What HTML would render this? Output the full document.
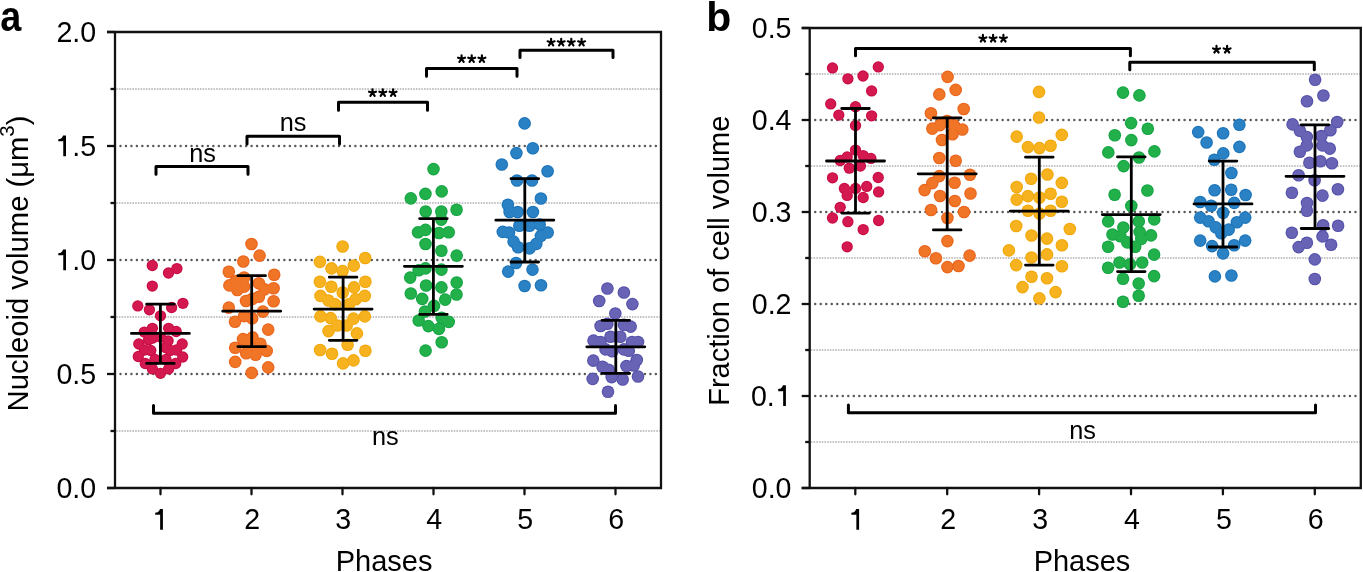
<!DOCTYPE html>
<html><head><meta charset="utf-8"><style>
html,body{margin:0;padding:0;background:#fff;width:1363px;height:572px;overflow:hidden}
svg{display:block;will-change:transform}
</style></head><body>
<svg width="1363" height="572" viewBox="0 0 1363 572" font-family='"Liberation Sans", sans-serif' fill="#000">
<rect width="1363" height="572" fill="#fff"/>
<line x1="116.2" y1="431.00" x2="659.8" y2="431.00" stroke="#8a8a8a" stroke-width="1" stroke-dasharray="1.6 1.1"/>
<line x1="116.2" y1="317.00" x2="659.8" y2="317.00" stroke="#8a8a8a" stroke-width="1" stroke-dasharray="1.6 1.1"/>
<line x1="116.2" y1="203.00" x2="659.8" y2="203.00" stroke="#8a8a8a" stroke-width="1" stroke-dasharray="1.6 1.1"/>
<line x1="116.2" y1="89.00" x2="659.8" y2="89.00" stroke="#8a8a8a" stroke-width="1" stroke-dasharray="1.6 1.1"/>
<line x1="120.5" y1="374.00" x2="658" y2="374.00" stroke="#5a5a5a" stroke-width="2.5" stroke-linecap="round" stroke-dasharray="0 5.463"/>
<line x1="120.5" y1="260.00" x2="658" y2="260.00" stroke="#5a5a5a" stroke-width="2.5" stroke-linecap="round" stroke-dasharray="0 5.463"/>
<line x1="120.5" y1="146.00" x2="658" y2="146.00" stroke="#5a5a5a" stroke-width="2.5" stroke-linecap="round" stroke-dasharray="0 5.463"/>
<line x1="107" y1="488.00" x2="115" y2="488.00" stroke="#111" stroke-width="2.3"/>
<line x1="107" y1="374.00" x2="115" y2="374.00" stroke="#111" stroke-width="2.3"/>
<line x1="107" y1="260.00" x2="115" y2="260.00" stroke="#111" stroke-width="2.3"/>
<line x1="107" y1="146.00" x2="115" y2="146.00" stroke="#111" stroke-width="2.3"/>
<line x1="107" y1="32.00" x2="115" y2="32.00" stroke="#111" stroke-width="2.3"/>
<line x1="110.5" y1="431.00" x2="115" y2="431.00" stroke="#111" stroke-width="2.3"/>
<line x1="110.5" y1="317.00" x2="115" y2="317.00" stroke="#111" stroke-width="2.3"/>
<line x1="110.5" y1="203.00" x2="115" y2="203.00" stroke="#111" stroke-width="2.3"/>
<line x1="110.5" y1="89.00" x2="115" y2="89.00" stroke="#111" stroke-width="2.3"/>
<line x1="160.50" y1="488" x2="160.50" y2="494.3" stroke="#111" stroke-width="2.3" stroke-linecap="round"/>
<line x1="251.50" y1="488" x2="251.50" y2="494.3" stroke="#111" stroke-width="2.3" stroke-linecap="round"/>
<line x1="342.50" y1="488" x2="342.50" y2="494.3" stroke="#111" stroke-width="2.3" stroke-linecap="round"/>
<line x1="433.50" y1="488" x2="433.50" y2="494.3" stroke="#111" stroke-width="2.3" stroke-linecap="round"/>
<line x1="524.50" y1="488" x2="524.50" y2="494.3" stroke="#111" stroke-width="2.3" stroke-linecap="round"/>
<line x1="615.50" y1="488" x2="615.50" y2="494.3" stroke="#111" stroke-width="2.3" stroke-linecap="round"/>
<path d="M107 32H661V488H107M115 32V488" fill="none" stroke="#111" stroke-width="2.3"/>
<text x="96.2" y="498.30" text-anchor="end" font-size="28.6">0.0</text>
<text x="96.2" y="384.30" text-anchor="end" font-size="28.6">0.5</text>
<text x="96.2" y="270.30" text-anchor="end" font-size="28.6">.0</text>
<path d="M66.00 249.50L66.00 270.20L63.25 270.20L63.25 255.10Q62.50 255.35 61.00 255.35L58.30 255.35L58.30 253.20Q61.30 253.20 62.30 251.20Q62.75 250.10 63.05 249.50Z"/>
<text x="96.2" y="156.30" text-anchor="end" font-size="28.6">.5</text>
<path d="M66.00 135.50L66.00 156.20L63.25 156.20L63.25 141.10Q62.50 141.35 61.00 141.35L58.30 141.35L58.30 139.20Q61.30 139.20 62.30 137.20Q62.75 136.10 63.05 135.50Z"/>
<text x="96.2" y="42.30" text-anchor="end" font-size="28.6">2.0</text>
<path d="M162.90 509.00L162.90 529.70L160.15 529.70L160.15 514.60Q159.40 514.85 157.90 514.85L155.20 514.85L155.20 512.70Q158.20 512.70 159.20 510.70Q159.65 509.60 159.95 509.00Z"/>
<text x="252.30" y="529.0" text-anchor="middle" font-size="28.6">2</text>
<text x="343.30" y="529.0" text-anchor="middle" font-size="28.6">3</text>
<text x="434.30" y="529.0" text-anchor="middle" font-size="28.6">4</text>
<text x="525.30" y="529.0" text-anchor="middle" font-size="28.6">5</text>
<text x="616.30" y="529.0" text-anchor="middle" font-size="28.6">6</text>
<line x1="810.9000000000001" y1="442.00" x2="1359.6" y2="442.00" stroke="#8a8a8a" stroke-width="1" stroke-dasharray="1.6 1.1"/>
<line x1="810.9000000000001" y1="350.00" x2="1359.6" y2="350.00" stroke="#8a8a8a" stroke-width="1" stroke-dasharray="1.6 1.1"/>
<line x1="810.9000000000001" y1="258.00" x2="1359.6" y2="258.00" stroke="#8a8a8a" stroke-width="1" stroke-dasharray="1.6 1.1"/>
<line x1="810.9000000000001" y1="166.00" x2="1359.6" y2="166.00" stroke="#8a8a8a" stroke-width="1" stroke-dasharray="1.6 1.1"/>
<line x1="810.9000000000001" y1="74.00" x2="1359.6" y2="74.00" stroke="#8a8a8a" stroke-width="1" stroke-dasharray="1.6 1.1"/>
<line x1="815.2" y1="396.00" x2="1357.8" y2="396.00" stroke="#5a5a5a" stroke-width="2.5" stroke-linecap="round" stroke-dasharray="0 5.513"/>
<line x1="815.2" y1="304.00" x2="1357.8" y2="304.00" stroke="#5a5a5a" stroke-width="2.5" stroke-linecap="round" stroke-dasharray="0 5.513"/>
<line x1="815.2" y1="212.00" x2="1357.8" y2="212.00" stroke="#5a5a5a" stroke-width="2.5" stroke-linecap="round" stroke-dasharray="0 5.513"/>
<line x1="815.2" y1="120.00" x2="1357.8" y2="120.00" stroke="#5a5a5a" stroke-width="2.5" stroke-linecap="round" stroke-dasharray="0 5.513"/>
<line x1="801.7" y1="488.00" x2="809.7" y2="488.00" stroke="#111" stroke-width="2.3"/>
<line x1="801.7" y1="396.00" x2="809.7" y2="396.00" stroke="#111" stroke-width="2.3"/>
<line x1="801.7" y1="304.00" x2="809.7" y2="304.00" stroke="#111" stroke-width="2.3"/>
<line x1="801.7" y1="212.00" x2="809.7" y2="212.00" stroke="#111" stroke-width="2.3"/>
<line x1="801.7" y1="120.00" x2="809.7" y2="120.00" stroke="#111" stroke-width="2.3"/>
<line x1="801.7" y1="28.00" x2="809.7" y2="28.00" stroke="#111" stroke-width="2.3"/>
<line x1="805.2" y1="442.00" x2="809.7" y2="442.00" stroke="#111" stroke-width="2.3"/>
<line x1="805.2" y1="350.00" x2="809.7" y2="350.00" stroke="#111" stroke-width="2.3"/>
<line x1="805.2" y1="258.00" x2="809.7" y2="258.00" stroke="#111" stroke-width="2.3"/>
<line x1="805.2" y1="166.00" x2="809.7" y2="166.00" stroke="#111" stroke-width="2.3"/>
<line x1="805.2" y1="74.00" x2="809.7" y2="74.00" stroke="#111" stroke-width="2.3"/>
<line x1="855.30" y1="488" x2="855.30" y2="494.3" stroke="#111" stroke-width="2.3" stroke-linecap="round"/>
<line x1="947.20" y1="488" x2="947.20" y2="494.3" stroke="#111" stroke-width="2.3" stroke-linecap="round"/>
<line x1="1039.10" y1="488" x2="1039.10" y2="494.3" stroke="#111" stroke-width="2.3" stroke-linecap="round"/>
<line x1="1131.00" y1="488" x2="1131.00" y2="494.3" stroke="#111" stroke-width="2.3" stroke-linecap="round"/>
<line x1="1222.90" y1="488" x2="1222.90" y2="494.3" stroke="#111" stroke-width="2.3" stroke-linecap="round"/>
<line x1="1314.80" y1="488" x2="1314.80" y2="494.3" stroke="#111" stroke-width="2.3" stroke-linecap="round"/>
<path d="M801.7 28H1360.8V488H801.7M809.7 28V488" fill="none" stroke="#111" stroke-width="2.3"/>
<text x="791.5" y="498.30" text-anchor="end" font-size="28.6">0.0</text>
<text x="750.9" y="406.30" font-size="28.6">0.</text>
<path d="M785.90 385.30L785.90 406.00L783.15 406.00L783.15 390.90Q782.40 391.15 780.90 391.15L778.20 391.15L778.20 389.00Q781.20 389.00 782.20 387.00Q782.65 385.90 782.95 385.30Z"/>
<text x="791.5" y="314.30" text-anchor="end" font-size="28.6">0.2</text>
<text x="791.5" y="222.30" text-anchor="end" font-size="28.6">0.3</text>
<text x="791.5" y="130.30" text-anchor="end" font-size="28.6">0.4</text>
<text x="791.5" y="38.30" text-anchor="end" font-size="28.6">0.5</text>
<path d="M859.10 509.00L859.10 529.70L856.35 529.70L856.35 514.60Q855.60 514.85 854.10 514.85L851.40 514.85L851.40 512.70Q854.40 512.70 855.40 510.70Q855.85 509.60 856.15 509.00Z"/>
<text x="948.20" y="529.0" text-anchor="middle" font-size="28.6">2</text>
<text x="1040.10" y="529.0" text-anchor="middle" font-size="28.6">3</text>
<text x="1132.00" y="529.0" text-anchor="middle" font-size="28.6">4</text>
<text x="1223.90" y="529.0" text-anchor="middle" font-size="28.6">5</text>
<text x="1315.80" y="529.0" text-anchor="middle" font-size="28.6">6</text>
<g fill="#c80a43"><circle cx="152.3" cy="265.5" r="5.6499999999999995"/><circle cx="176.9" cy="268.6" r="5.6499999999999995"/><circle cx="168.5" cy="273.0" r="5.6499999999999995"/><circle cx="152.3" cy="286.1" r="5.6499999999999995"/><circle cx="137.8" cy="305.9" r="5.6499999999999995"/><circle cx="182.9" cy="303.3" r="5.6499999999999995"/><circle cx="149.4" cy="309.8" r="5.6499999999999995"/><circle cx="171.6" cy="307.5" r="5.6499999999999995"/><circle cx="160.5" cy="315.8" r="5.6499999999999995"/><circle cx="152.4" cy="328.3" r="5.6499999999999995"/><circle cx="168.6" cy="328.3" r="5.6499999999999995"/><circle cx="144.3" cy="332.1" r="5.6499999999999995"/><circle cx="176.2" cy="331.5" r="5.6499999999999995"/><circle cx="152.9" cy="338" r="5.6499999999999995"/><circle cx="168.1" cy="340.8" r="5.6499999999999995"/><circle cx="138.8" cy="344" r="5.6499999999999995"/><circle cx="182.2" cy="344" r="5.6499999999999995"/><circle cx="148.6" cy="339.7" r="5.6499999999999995"/><circle cx="150.8" cy="350.5" r="5.6499999999999995"/><circle cx="170.3" cy="350.5" r="5.6499999999999995"/><circle cx="138.3" cy="356.5" r="5.6499999999999995"/><circle cx="182.7" cy="357" r="5.6499999999999995"/><circle cx="155" cy="359.5" r="5.6499999999999995"/><circle cx="166" cy="359.5" r="5.6499999999999995"/><circle cx="145.3" cy="363.5" r="5.6499999999999995"/><circle cx="175.7" cy="363.5" r="5.6499999999999995"/><circle cx="152.4" cy="368.9" r="5.6499999999999995"/><circle cx="168.6" cy="368.9" r="5.6499999999999995"/><circle cx="160.5" cy="373.3" r="5.6499999999999995"/><circle cx="144.5" cy="350" r="5.6499999999999995"/><circle cx="176.5" cy="350" r="5.6499999999999995"/><circle cx="165.5" cy="347.5" r="5.6499999999999995"/><circle cx="160.5" cy="337" r="5.6499999999999995"/></g>
<g fill="#d3194f"><circle cx="152.3" cy="265.5" r="4.6499999999999995"/><circle cx="176.9" cy="268.6" r="4.6499999999999995"/><circle cx="168.5" cy="273.0" r="4.6499999999999995"/><circle cx="152.3" cy="286.1" r="4.6499999999999995"/><circle cx="137.8" cy="305.9" r="4.6499999999999995"/><circle cx="182.9" cy="303.3" r="4.6499999999999995"/><circle cx="149.4" cy="309.8" r="4.6499999999999995"/><circle cx="171.6" cy="307.5" r="4.6499999999999995"/><circle cx="160.5" cy="315.8" r="4.6499999999999995"/><circle cx="152.4" cy="328.3" r="4.6499999999999995"/><circle cx="168.6" cy="328.3" r="4.6499999999999995"/><circle cx="144.3" cy="332.1" r="4.6499999999999995"/><circle cx="176.2" cy="331.5" r="4.6499999999999995"/><circle cx="152.9" cy="338" r="4.6499999999999995"/><circle cx="168.1" cy="340.8" r="4.6499999999999995"/><circle cx="138.8" cy="344" r="4.6499999999999995"/><circle cx="182.2" cy="344" r="4.6499999999999995"/><circle cx="148.6" cy="339.7" r="4.6499999999999995"/><circle cx="150.8" cy="350.5" r="4.6499999999999995"/><circle cx="170.3" cy="350.5" r="4.6499999999999995"/><circle cx="138.3" cy="356.5" r="4.6499999999999995"/><circle cx="182.7" cy="357" r="4.6499999999999995"/><circle cx="155" cy="359.5" r="4.6499999999999995"/><circle cx="166" cy="359.5" r="4.6499999999999995"/><circle cx="145.3" cy="363.5" r="4.6499999999999995"/><circle cx="175.7" cy="363.5" r="4.6499999999999995"/><circle cx="152.4" cy="368.9" r="4.6499999999999995"/><circle cx="168.6" cy="368.9" r="4.6499999999999995"/><circle cx="160.5" cy="373.3" r="4.6499999999999995"/><circle cx="144.5" cy="350" r="4.6499999999999995"/><circle cx="176.5" cy="350" r="4.6499999999999995"/><circle cx="165.5" cy="347.5" r="4.6499999999999995"/><circle cx="160.5" cy="337" r="4.6499999999999995"/></g>
<g fill="#e9631b"><circle cx="251.5" cy="244.0" r="6.3"/><circle cx="259.6" cy="255.6" r="6.3"/><circle cx="243.3" cy="261.5" r="6.3"/><circle cx="228.8" cy="271.8" r="6.3"/><circle cx="274.2" cy="274.7" r="6.3"/><circle cx="244.1" cy="277.5" r="6.3"/><circle cx="229.4" cy="285.4" r="6.3"/><circle cx="258.9" cy="283.2" r="6.3"/><circle cx="237.3" cy="290" r="6.3"/><circle cx="244.1" cy="286.6" r="6.3"/><circle cx="264.6" cy="289.4" r="6.3"/><circle cx="273.6" cy="288.3" r="6.3"/><circle cx="252.1" cy="299" r="6.3"/><circle cx="258.9" cy="296.8" r="6.3"/><circle cx="273.6" cy="301.3" r="6.3"/><circle cx="228.8" cy="307.6" r="6.3"/><circle cx="262.9" cy="311.6" r="6.3"/><circle cx="235" cy="321.8" r="6.3"/><circle cx="244.1" cy="316.1" r="6.3"/><circle cx="252.1" cy="318.4" r="6.3"/><circle cx="268.2" cy="329.6" r="6.3"/><circle cx="243" cy="339.1" r="6.3"/><circle cx="252.5" cy="337.5" r="6.3"/><circle cx="235.2" cy="347.7" r="6.3"/><circle cx="260.4" cy="343.8" r="6.3"/><circle cx="246.2" cy="353.2" r="6.3"/><circle cx="255.6" cy="354.8" r="6.3"/><circle cx="266.7" cy="350.9" r="6.3"/><circle cx="235.2" cy="361.9" r="6.3"/><circle cx="268.2" cy="367.4" r="6.3"/><circle cx="251.7" cy="372.9" r="6.3"/><circle cx="246" cy="301" r="6.3"/><circle cx="249" cy="346" r="6.3"/><circle cx="258" cy="348" r="6.3"/><circle cx="236" cy="281" r="6.3"/></g>
<g fill="#f07527"><circle cx="251.5" cy="244.0" r="5.3"/><circle cx="259.6" cy="255.6" r="5.3"/><circle cx="243.3" cy="261.5" r="5.3"/><circle cx="228.8" cy="271.8" r="5.3"/><circle cx="274.2" cy="274.7" r="5.3"/><circle cx="244.1" cy="277.5" r="5.3"/><circle cx="229.4" cy="285.4" r="5.3"/><circle cx="258.9" cy="283.2" r="5.3"/><circle cx="237.3" cy="290" r="5.3"/><circle cx="244.1" cy="286.6" r="5.3"/><circle cx="264.6" cy="289.4" r="5.3"/><circle cx="273.6" cy="288.3" r="5.3"/><circle cx="252.1" cy="299" r="5.3"/><circle cx="258.9" cy="296.8" r="5.3"/><circle cx="273.6" cy="301.3" r="5.3"/><circle cx="228.8" cy="307.6" r="5.3"/><circle cx="262.9" cy="311.6" r="5.3"/><circle cx="235" cy="321.8" r="5.3"/><circle cx="244.1" cy="316.1" r="5.3"/><circle cx="252.1" cy="318.4" r="5.3"/><circle cx="268.2" cy="329.6" r="5.3"/><circle cx="243" cy="339.1" r="5.3"/><circle cx="252.5" cy="337.5" r="5.3"/><circle cx="235.2" cy="347.7" r="5.3"/><circle cx="260.4" cy="343.8" r="5.3"/><circle cx="246.2" cy="353.2" r="5.3"/><circle cx="255.6" cy="354.8" r="5.3"/><circle cx="266.7" cy="350.9" r="5.3"/><circle cx="235.2" cy="361.9" r="5.3"/><circle cx="268.2" cy="367.4" r="5.3"/><circle cx="251.7" cy="372.9" r="5.3"/><circle cx="246" cy="301" r="5.3"/><circle cx="249" cy="346" r="5.3"/><circle cx="258" cy="348" r="5.3"/><circle cx="236" cy="281" r="5.3"/></g>
<g fill="#f1a70a"><circle cx="342.6" cy="246.5" r="6.3"/><circle cx="319.9" cy="261.9" r="6.3"/><circle cx="365.2" cy="258" r="6.3"/><circle cx="331.5" cy="268.4" r="6.3"/><circle cx="353.8" cy="265.6" r="6.3"/><circle cx="342.6" cy="271.1" r="6.3"/><circle cx="319.9" cy="281.7" r="6.3"/><circle cx="365.4" cy="281.7" r="6.3"/><circle cx="331.3" cy="286.8" r="6.3"/><circle cx="354" cy="287.4" r="6.3"/><circle cx="342.7" cy="292.5" r="6.3"/><circle cx="320.5" cy="295.9" r="6.3"/><circle cx="364.8" cy="295.9" r="6.3"/><circle cx="328.5" cy="300.5" r="6.3"/><circle cx="355.7" cy="299.3" r="6.3"/><circle cx="335.3" cy="304.4" r="6.3"/><circle cx="348.9" cy="304.4" r="6.3"/><circle cx="320.5" cy="316.4" r="6.3"/><circle cx="364.8" cy="316.4" r="6.3"/><circle cx="330.7" cy="318.1" r="6.3"/><circle cx="353.5" cy="318.6" r="6.3"/><circle cx="328.5" cy="331.1" r="6.3"/><circle cx="337.5" cy="325.5" r="6.3"/><circle cx="346.6" cy="325.5" r="6.3"/><circle cx="356.9" cy="333.4" r="6.3"/><circle cx="347.6" cy="344.8" r="6.3"/><circle cx="320.1" cy="350" r="6.3"/><circle cx="332" cy="353.7" r="6.3"/><circle cx="365.4" cy="350.7" r="6.3"/><circle cx="343.1" cy="363.4" r="6.3"/><circle cx="353.5" cy="360.4" r="6.3"/></g>
<g fill="#f6b31f"><circle cx="342.6" cy="246.5" r="5.3"/><circle cx="319.9" cy="261.9" r="5.3"/><circle cx="365.2" cy="258" r="5.3"/><circle cx="331.5" cy="268.4" r="5.3"/><circle cx="353.8" cy="265.6" r="5.3"/><circle cx="342.6" cy="271.1" r="5.3"/><circle cx="319.9" cy="281.7" r="5.3"/><circle cx="365.4" cy="281.7" r="5.3"/><circle cx="331.3" cy="286.8" r="5.3"/><circle cx="354" cy="287.4" r="5.3"/><circle cx="342.7" cy="292.5" r="5.3"/><circle cx="320.5" cy="295.9" r="5.3"/><circle cx="364.8" cy="295.9" r="5.3"/><circle cx="328.5" cy="300.5" r="5.3"/><circle cx="355.7" cy="299.3" r="5.3"/><circle cx="335.3" cy="304.4" r="5.3"/><circle cx="348.9" cy="304.4" r="5.3"/><circle cx="320.5" cy="316.4" r="5.3"/><circle cx="364.8" cy="316.4" r="5.3"/><circle cx="330.7" cy="318.1" r="5.3"/><circle cx="353.5" cy="318.6" r="5.3"/><circle cx="328.5" cy="331.1" r="5.3"/><circle cx="337.5" cy="325.5" r="5.3"/><circle cx="346.6" cy="325.5" r="5.3"/><circle cx="356.9" cy="333.4" r="5.3"/><circle cx="347.6" cy="344.8" r="5.3"/><circle cx="320.1" cy="350" r="5.3"/><circle cx="332" cy="353.7" r="5.3"/><circle cx="365.4" cy="350.7" r="5.3"/><circle cx="343.1" cy="363.4" r="5.3"/><circle cx="353.5" cy="360.4" r="5.3"/></g>
<g fill="#14a443"><circle cx="433.5" cy="169.1" r="6.3"/><circle cx="410.8" cy="198.4" r="6.3"/><circle cx="425.4" cy="193.9" r="6.3"/><circle cx="441.7" cy="191.4" r="6.3"/><circle cx="425.7" cy="211.5" r="6.3"/><circle cx="441.3" cy="211.5" r="6.3"/><circle cx="456.6" cy="209.7" r="6.3"/><circle cx="441.3" cy="219.6" r="6.3"/><circle cx="418.1" cy="232.3" r="6.3"/><circle cx="425.5" cy="229.9" r="6.3"/><circle cx="438.9" cy="233" r="6.3"/><circle cx="448.7" cy="232.3" r="6.3"/><circle cx="425.5" cy="244" r="6.3"/><circle cx="441.4" cy="250.7" r="6.3"/><circle cx="456.7" cy="255.6" r="6.3"/><circle cx="418.7" cy="270.3" r="6.3"/><circle cx="425.5" cy="268.4" r="6.3"/><circle cx="441.4" cy="269.6" r="6.3"/><circle cx="410.2" cy="277.6" r="6.3"/><circle cx="426.1" cy="285.5" r="6.3"/><circle cx="441.4" cy="287.4" r="6.3"/><circle cx="456.7" cy="282.5" r="6.3"/><circle cx="456.5" cy="294.5" r="6.3"/><circle cx="410.8" cy="293.5" r="6.3"/><circle cx="422.2" cy="298.9" r="6.3"/><circle cx="445.2" cy="299.6" r="6.3"/><circle cx="434" cy="305.9" r="6.3"/><circle cx="425" cy="311.5" r="6.3"/><circle cx="418.7" cy="320.5" r="6.3"/><circle cx="428.4" cy="326.1" r="6.3"/><circle cx="438.9" cy="328.9" r="6.3"/><circle cx="448.7" cy="321.9" r="6.3"/><circle cx="441.7" cy="317.7" r="6.3"/><circle cx="441.7" cy="342.2" r="6.3"/><circle cx="425.6" cy="350.6" r="6.3"/></g>
<g fill="#22b04a"><circle cx="433.5" cy="169.1" r="5.3"/><circle cx="410.8" cy="198.4" r="5.3"/><circle cx="425.4" cy="193.9" r="5.3"/><circle cx="441.7" cy="191.4" r="5.3"/><circle cx="425.7" cy="211.5" r="5.3"/><circle cx="441.3" cy="211.5" r="5.3"/><circle cx="456.6" cy="209.7" r="5.3"/><circle cx="441.3" cy="219.6" r="5.3"/><circle cx="418.1" cy="232.3" r="5.3"/><circle cx="425.5" cy="229.9" r="5.3"/><circle cx="438.9" cy="233" r="5.3"/><circle cx="448.7" cy="232.3" r="5.3"/><circle cx="425.5" cy="244" r="5.3"/><circle cx="441.4" cy="250.7" r="5.3"/><circle cx="456.7" cy="255.6" r="5.3"/><circle cx="418.7" cy="270.3" r="5.3"/><circle cx="425.5" cy="268.4" r="5.3"/><circle cx="441.4" cy="269.6" r="5.3"/><circle cx="410.2" cy="277.6" r="5.3"/><circle cx="426.1" cy="285.5" r="5.3"/><circle cx="441.4" cy="287.4" r="5.3"/><circle cx="456.7" cy="282.5" r="5.3"/><circle cx="456.5" cy="294.5" r="5.3"/><circle cx="410.8" cy="293.5" r="5.3"/><circle cx="422.2" cy="298.9" r="5.3"/><circle cx="445.2" cy="299.6" r="5.3"/><circle cx="434" cy="305.9" r="5.3"/><circle cx="425" cy="311.5" r="5.3"/><circle cx="418.7" cy="320.5" r="5.3"/><circle cx="428.4" cy="326.1" r="5.3"/><circle cx="438.9" cy="328.9" r="5.3"/><circle cx="448.7" cy="321.9" r="5.3"/><circle cx="441.7" cy="317.7" r="5.3"/><circle cx="441.7" cy="342.2" r="5.3"/><circle cx="425.6" cy="350.6" r="5.3"/></g>
<g fill="#1b73b9"><circle cx="524.6" cy="123.4" r="6.3"/><circle cx="532.8" cy="148.3" r="6.3"/><circle cx="516.4" cy="153.1" r="6.3"/><circle cx="501.8" cy="164.5" r="6.3"/><circle cx="547.6" cy="171.2" r="6.3"/><circle cx="517" cy="180.5" r="6.3"/><circle cx="532" cy="180.5" r="6.3"/><circle cx="540.9" cy="198.5" r="6.3"/><circle cx="507.9" cy="204.7" r="6.3"/><circle cx="509.6" cy="212" r="6.3"/><circle cx="517.6" cy="212" r="6.3"/><circle cx="532.9" cy="212" r="6.3"/><circle cx="519.3" cy="225.7" r="6.3"/><circle cx="529.5" cy="225.7" r="6.3"/><circle cx="539.7" cy="224.5" r="6.3"/><circle cx="502.8" cy="231.9" r="6.3"/><circle cx="509" cy="232.5" r="6.3"/><circle cx="547.7" cy="232.5" r="6.3"/><circle cx="540.9" cy="235.9" r="6.3"/><circle cx="513.6" cy="241.6" r="6.3"/><circle cx="518.1" cy="247.3" r="6.3"/><circle cx="529.5" cy="248.4" r="6.3"/><circle cx="536.3" cy="243.9" r="6.3"/><circle cx="516.1" cy="263" r="6.3"/><circle cx="508.2" cy="271.6" r="6.3"/><circle cx="532.5" cy="269.6" r="6.3"/><circle cx="524.6" cy="286" r="6.3"/><circle cx="541" cy="285.3" r="6.3"/></g>
<g fill="#2a81c4"><circle cx="524.6" cy="123.4" r="5.3"/><circle cx="532.8" cy="148.3" r="5.3"/><circle cx="516.4" cy="153.1" r="5.3"/><circle cx="501.8" cy="164.5" r="5.3"/><circle cx="547.6" cy="171.2" r="5.3"/><circle cx="517" cy="180.5" r="5.3"/><circle cx="532" cy="180.5" r="5.3"/><circle cx="540.9" cy="198.5" r="5.3"/><circle cx="507.9" cy="204.7" r="5.3"/><circle cx="509.6" cy="212" r="5.3"/><circle cx="517.6" cy="212" r="5.3"/><circle cx="532.9" cy="212" r="5.3"/><circle cx="519.3" cy="225.7" r="5.3"/><circle cx="529.5" cy="225.7" r="5.3"/><circle cx="539.7" cy="224.5" r="5.3"/><circle cx="502.8" cy="231.9" r="5.3"/><circle cx="509" cy="232.5" r="5.3"/><circle cx="547.7" cy="232.5" r="5.3"/><circle cx="540.9" cy="235.9" r="5.3"/><circle cx="513.6" cy="241.6" r="5.3"/><circle cx="518.1" cy="247.3" r="5.3"/><circle cx="529.5" cy="248.4" r="5.3"/><circle cx="536.3" cy="243.9" r="5.3"/><circle cx="516.1" cy="263" r="5.3"/><circle cx="508.2" cy="271.6" r="5.3"/><circle cx="532.5" cy="269.6" r="5.3"/><circle cx="524.6" cy="286" r="5.3"/><circle cx="541" cy="285.3" r="5.3"/></g>
<g fill="#5450a9"><circle cx="607.4" cy="288.5" r="6.3"/><circle cx="623.9" cy="292.5" r="6.3"/><circle cx="599.2" cy="301" r="6.3"/><circle cx="632.4" cy="304.1" r="6.3"/><circle cx="615.3" cy="313.5" r="6.3"/><circle cx="600.6" cy="326" r="6.3"/><circle cx="607.4" cy="323.8" r="6.3"/><circle cx="623.9" cy="324.9" r="6.3"/><circle cx="630.7" cy="326.6" r="6.3"/><circle cx="610.5" cy="336.7" r="6.3"/><circle cx="620.3" cy="336.7" r="6.3"/><circle cx="593.5" cy="340.6" r="6.3"/><circle cx="600.4" cy="342" r="6.3"/><circle cx="632" cy="342" r="6.3"/><circle cx="638" cy="342" r="6.3"/><circle cx="605.6" cy="349.4" r="6.3"/><circle cx="612.3" cy="351.3" r="6.3"/><circle cx="623.9" cy="349.4" r="6.3"/><circle cx="628.8" cy="350.7" r="6.3"/><circle cx="593.3" cy="360.6" r="6.3"/><circle cx="636.8" cy="360" r="6.3"/><circle cx="602.5" cy="366.7" r="6.3"/><circle cx="608.6" cy="369.8" r="6.3"/><circle cx="626.4" cy="366.1" r="6.3"/><circle cx="633.7" cy="365.5" r="6.3"/><circle cx="592.7" cy="378.9" r="6.3"/><circle cx="611.7" cy="377.1" r="6.3"/><circle cx="622.7" cy="379.5" r="6.3"/><circle cx="638" cy="376.5" r="6.3"/><circle cx="608" cy="391.8" r="6.3"/></g>
<g fill="#6863b4"><circle cx="607.4" cy="288.5" r="5.3"/><circle cx="623.9" cy="292.5" r="5.3"/><circle cx="599.2" cy="301" r="5.3"/><circle cx="632.4" cy="304.1" r="5.3"/><circle cx="615.3" cy="313.5" r="5.3"/><circle cx="600.6" cy="326" r="5.3"/><circle cx="607.4" cy="323.8" r="5.3"/><circle cx="623.9" cy="324.9" r="5.3"/><circle cx="630.7" cy="326.6" r="5.3"/><circle cx="610.5" cy="336.7" r="5.3"/><circle cx="620.3" cy="336.7" r="5.3"/><circle cx="593.5" cy="340.6" r="5.3"/><circle cx="600.4" cy="342" r="5.3"/><circle cx="632" cy="342" r="5.3"/><circle cx="638" cy="342" r="5.3"/><circle cx="605.6" cy="349.4" r="5.3"/><circle cx="612.3" cy="351.3" r="5.3"/><circle cx="623.9" cy="349.4" r="5.3"/><circle cx="628.8" cy="350.7" r="5.3"/><circle cx="593.3" cy="360.6" r="5.3"/><circle cx="636.8" cy="360" r="5.3"/><circle cx="602.5" cy="366.7" r="5.3"/><circle cx="608.6" cy="369.8" r="5.3"/><circle cx="626.4" cy="366.1" r="5.3"/><circle cx="633.7" cy="365.5" r="5.3"/><circle cx="592.7" cy="378.9" r="5.3"/><circle cx="611.7" cy="377.1" r="5.3"/><circle cx="622.7" cy="379.5" r="5.3"/><circle cx="638" cy="376.5" r="5.3"/><circle cx="608" cy="391.8" r="5.3"/></g>
<g fill="#c80a43"><circle cx="832.5" cy="67.9" r="5.6499999999999995"/><circle cx="878.3" cy="66.9" r="5.6499999999999995"/><circle cx="847.9" cy="78.8" r="5.6499999999999995"/><circle cx="863" cy="76" r="5.6499999999999995"/><circle cx="871.6" cy="90.9" r="5.6499999999999995"/><circle cx="830.7" cy="103.9" r="5.6499999999999995"/><circle cx="855.5" cy="106.7" r="5.6499999999999995"/><circle cx="838.8" cy="115.1" r="5.6499999999999995"/><circle cx="871.6" cy="115.8" r="5.6499999999999995"/><circle cx="855.5" cy="125.6" r="5.6499999999999995"/><circle cx="855.5" cy="150.1" r="5.6499999999999995"/><circle cx="847.2" cy="157" r="5.6499999999999995"/><circle cx="840.2" cy="160.5" r="5.6499999999999995"/><circle cx="863.2" cy="155.6" r="5.6499999999999995"/><circle cx="870.9" cy="158.4" r="5.6499999999999995"/><circle cx="849.3" cy="168.2" r="5.6499999999999995"/><circle cx="860.4" cy="166.1" r="5.6499999999999995"/><circle cx="832.5" cy="177.8" r="5.6499999999999995"/><circle cx="878.2" cy="177.5" r="5.6499999999999995"/><circle cx="844.4" cy="188.4" r="5.6499999999999995"/><circle cx="855.5" cy="188.4" r="5.6499999999999995"/><circle cx="866.7" cy="186.4" r="5.6499999999999995"/><circle cx="878.6" cy="191.9" r="5.6499999999999995"/><circle cx="847.2" cy="195.4" r="5.6499999999999995"/><circle cx="863.2" cy="197.5" r="5.6499999999999995"/><circle cx="840.2" cy="207.3" r="5.6499999999999995"/><circle cx="832.5" cy="218" r="5.6499999999999995"/><circle cx="847.9" cy="221.7" r="5.6499999999999995"/><circle cx="878.6" cy="220.5" r="5.6499999999999995"/><circle cx="863.2" cy="229.6" r="5.6499999999999995"/><circle cx="847.2" cy="246.8" r="5.6499999999999995"/></g>
<g fill="#d3194f"><circle cx="832.5" cy="67.9" r="4.6499999999999995"/><circle cx="878.3" cy="66.9" r="4.6499999999999995"/><circle cx="847.9" cy="78.8" r="4.6499999999999995"/><circle cx="863" cy="76" r="4.6499999999999995"/><circle cx="871.6" cy="90.9" r="4.6499999999999995"/><circle cx="830.7" cy="103.9" r="4.6499999999999995"/><circle cx="855.5" cy="106.7" r="4.6499999999999995"/><circle cx="838.8" cy="115.1" r="4.6499999999999995"/><circle cx="871.6" cy="115.8" r="4.6499999999999995"/><circle cx="855.5" cy="125.6" r="4.6499999999999995"/><circle cx="855.5" cy="150.1" r="4.6499999999999995"/><circle cx="847.2" cy="157" r="4.6499999999999995"/><circle cx="840.2" cy="160.5" r="4.6499999999999995"/><circle cx="863.2" cy="155.6" r="4.6499999999999995"/><circle cx="870.9" cy="158.4" r="4.6499999999999995"/><circle cx="849.3" cy="168.2" r="4.6499999999999995"/><circle cx="860.4" cy="166.1" r="4.6499999999999995"/><circle cx="832.5" cy="177.8" r="4.6499999999999995"/><circle cx="878.2" cy="177.5" r="4.6499999999999995"/><circle cx="844.4" cy="188.4" r="4.6499999999999995"/><circle cx="855.5" cy="188.4" r="4.6499999999999995"/><circle cx="866.7" cy="186.4" r="4.6499999999999995"/><circle cx="878.6" cy="191.9" r="4.6499999999999995"/><circle cx="847.2" cy="195.4" r="4.6499999999999995"/><circle cx="863.2" cy="197.5" r="4.6499999999999995"/><circle cx="840.2" cy="207.3" r="4.6499999999999995"/><circle cx="832.5" cy="218" r="4.6499999999999995"/><circle cx="847.9" cy="221.7" r="4.6499999999999995"/><circle cx="878.6" cy="220.5" r="4.6499999999999995"/><circle cx="863.2" cy="229.6" r="4.6499999999999995"/><circle cx="847.2" cy="246.8" r="4.6499999999999995"/></g>
<g fill="#e9631b"><circle cx="947.6" cy="76.9" r="6.3"/><circle cx="955.7" cy="89.9" r="6.3"/><circle cx="939.3" cy="94.4" r="6.3"/><circle cx="963.7" cy="109" r="6.3"/><circle cx="930.9" cy="113.2" r="6.3"/><circle cx="932.3" cy="128.6" r="6.3"/><circle cx="940" cy="125.1" r="6.3"/><circle cx="947" cy="121" r="6.3"/><circle cx="953.9" cy="125.1" r="6.3"/><circle cx="962.3" cy="129.5" r="6.3"/><circle cx="952.5" cy="134.2" r="6.3"/><circle cx="942" cy="140" r="6.3"/><circle cx="939.3" cy="158" r="6.3"/><circle cx="955.7" cy="160.8" r="6.3"/><circle cx="939.3" cy="176.1" r="6.3"/><circle cx="970" cy="174.7" r="6.3"/><circle cx="932.3" cy="183.1" r="6.3"/><circle cx="924.6" cy="190.1" r="6.3"/><circle cx="954.6" cy="182.8" r="6.3"/><circle cx="940" cy="196" r="6.3"/><circle cx="970.5" cy="193.5" r="6.3"/><circle cx="954.8" cy="201" r="6.3"/><circle cx="931" cy="210" r="6.3"/><circle cx="964" cy="212" r="6.3"/><circle cx="947.4" cy="218" r="6.3"/><circle cx="947.4" cy="241.1" r="6.3"/><circle cx="924.8" cy="251.2" r="6.3"/><circle cx="935.9" cy="258.2" r="6.3"/><circle cx="969.6" cy="255.6" r="6.3"/><circle cx="947.4" cy="267.1" r="6.3"/><circle cx="958.5" cy="266" r="6.3"/></g>
<g fill="#f07527"><circle cx="947.6" cy="76.9" r="5.3"/><circle cx="955.7" cy="89.9" r="5.3"/><circle cx="939.3" cy="94.4" r="5.3"/><circle cx="963.7" cy="109" r="5.3"/><circle cx="930.9" cy="113.2" r="5.3"/><circle cx="932.3" cy="128.6" r="5.3"/><circle cx="940" cy="125.1" r="5.3"/><circle cx="947" cy="121" r="5.3"/><circle cx="953.9" cy="125.1" r="5.3"/><circle cx="962.3" cy="129.5" r="5.3"/><circle cx="952.5" cy="134.2" r="5.3"/><circle cx="942" cy="140" r="5.3"/><circle cx="939.3" cy="158" r="5.3"/><circle cx="955.7" cy="160.8" r="5.3"/><circle cx="939.3" cy="176.1" r="5.3"/><circle cx="970" cy="174.7" r="5.3"/><circle cx="932.3" cy="183.1" r="5.3"/><circle cx="924.6" cy="190.1" r="5.3"/><circle cx="954.6" cy="182.8" r="5.3"/><circle cx="940" cy="196" r="5.3"/><circle cx="970.5" cy="193.5" r="5.3"/><circle cx="954.8" cy="201" r="5.3"/><circle cx="931" cy="210" r="5.3"/><circle cx="964" cy="212" r="5.3"/><circle cx="947.4" cy="218" r="5.3"/><circle cx="947.4" cy="241.1" r="5.3"/><circle cx="924.8" cy="251.2" r="5.3"/><circle cx="935.9" cy="258.2" r="5.3"/><circle cx="969.6" cy="255.6" r="5.3"/><circle cx="947.4" cy="267.1" r="5.3"/><circle cx="958.5" cy="266" r="5.3"/></g>
<g fill="#f1a70a"><circle cx="1039" cy="91.9" r="6.3"/><circle cx="1039" cy="117.5" r="6.3"/><circle cx="1016.7" cy="136.6" r="6.3"/><circle cx="1061.8" cy="134.9" r="6.3"/><circle cx="1027.9" cy="147.1" r="6.3"/><circle cx="1039.5" cy="148.1" r="6.3"/><circle cx="1050.6" cy="145.7" r="6.3"/><circle cx="1047.4" cy="174.5" r="6.3"/><circle cx="1031.1" cy="178.7" r="6.3"/><circle cx="1061.8" cy="182.9" r="6.3"/><circle cx="1016.7" cy="187" r="6.3"/><circle cx="1016.7" cy="199.6" r="6.3"/><circle cx="1027.9" cy="196.1" r="6.3"/><circle cx="1039.5" cy="197.5" r="6.3"/><circle cx="1050.6" cy="193.8" r="6.3"/><circle cx="1061.8" cy="201.7" r="6.3"/><circle cx="1027.9" cy="210.8" r="6.3"/><circle cx="1039.5" cy="213.6" r="6.3"/><circle cx="1050.6" cy="210.8" r="6.3"/><circle cx="1016.2" cy="226" r="6.3"/><circle cx="1069.8" cy="229" r="6.3"/><circle cx="1031.5" cy="235.5" r="6.3"/><circle cx="1047" cy="238.6" r="6.3"/><circle cx="1061.9" cy="245.2" r="6.3"/><circle cx="1008.9" cy="250.4" r="6.3"/><circle cx="1031.5" cy="257.5" r="6.3"/><circle cx="1047" cy="254.4" r="6.3"/><circle cx="1016.2" cy="265.1" r="6.3"/><circle cx="1061.9" cy="266.2" r="6.3"/><circle cx="1031.5" cy="276.7" r="6.3"/><circle cx="1047" cy="278.3" r="6.3"/><circle cx="1022.5" cy="287.1" r="6.3"/><circle cx="1055.6" cy="292.1" r="6.3"/><circle cx="1039.4" cy="298.4" r="6.3"/></g>
<g fill="#f6b31f"><circle cx="1039" cy="91.9" r="5.3"/><circle cx="1039" cy="117.5" r="5.3"/><circle cx="1016.7" cy="136.6" r="5.3"/><circle cx="1061.8" cy="134.9" r="5.3"/><circle cx="1027.9" cy="147.1" r="5.3"/><circle cx="1039.5" cy="148.1" r="5.3"/><circle cx="1050.6" cy="145.7" r="5.3"/><circle cx="1047.4" cy="174.5" r="5.3"/><circle cx="1031.1" cy="178.7" r="5.3"/><circle cx="1061.8" cy="182.9" r="5.3"/><circle cx="1016.7" cy="187" r="5.3"/><circle cx="1016.7" cy="199.6" r="5.3"/><circle cx="1027.9" cy="196.1" r="5.3"/><circle cx="1039.5" cy="197.5" r="5.3"/><circle cx="1050.6" cy="193.8" r="5.3"/><circle cx="1061.8" cy="201.7" r="5.3"/><circle cx="1027.9" cy="210.8" r="5.3"/><circle cx="1039.5" cy="213.6" r="5.3"/><circle cx="1050.6" cy="210.8" r="5.3"/><circle cx="1016.2" cy="226" r="5.3"/><circle cx="1069.8" cy="229" r="5.3"/><circle cx="1031.5" cy="235.5" r="5.3"/><circle cx="1047" cy="238.6" r="5.3"/><circle cx="1061.9" cy="245.2" r="5.3"/><circle cx="1008.9" cy="250.4" r="5.3"/><circle cx="1031.5" cy="257.5" r="5.3"/><circle cx="1047" cy="254.4" r="5.3"/><circle cx="1016.2" cy="265.1" r="5.3"/><circle cx="1061.9" cy="266.2" r="5.3"/><circle cx="1031.5" cy="276.7" r="5.3"/><circle cx="1047" cy="278.3" r="5.3"/><circle cx="1022.5" cy="287.1" r="5.3"/><circle cx="1055.6" cy="292.1" r="5.3"/><circle cx="1039.4" cy="298.4" r="5.3"/></g>
<g fill="#14a443"><circle cx="1123" cy="92.6" r="6.3"/><circle cx="1139.4" cy="95.4" r="6.3"/><circle cx="1131.1" cy="123.1" r="6.3"/><circle cx="1147.8" cy="128.7" r="6.3"/><circle cx="1114.8" cy="135.2" r="6.3"/><circle cx="1131.3" cy="140.1" r="6.3"/><circle cx="1108.3" cy="152.4" r="6.3"/><circle cx="1154.4" cy="151.4" r="6.3"/><circle cx="1139" cy="157.5" r="6.3"/><circle cx="1123.6" cy="166.1" r="6.3"/><circle cx="1147.4" cy="190.5" r="6.3"/><circle cx="1114.6" cy="194.7" r="6.3"/><circle cx="1131.3" cy="205.9" r="6.3"/><circle cx="1108.2" cy="221.4" r="6.3"/><circle cx="1138.8" cy="221.4" r="6.3"/><circle cx="1154.2" cy="219.4" r="6.3"/><circle cx="1123.3" cy="227.5" r="6.3"/><circle cx="1112.5" cy="234.5" r="6.3"/><circle cx="1120.4" cy="236.2" r="6.3"/><circle cx="1139.6" cy="231.9" r="6.3"/><circle cx="1141.3" cy="238.9" r="6.3"/><circle cx="1151" cy="235.4" r="6.3"/><circle cx="1127.3" cy="242.4" r="6.3"/><circle cx="1135.2" cy="246.7" r="6.3"/><circle cx="1108.1" cy="246.7" r="6.3"/><circle cx="1154.1" cy="254.6" r="6.3"/><circle cx="1119.5" cy="262.5" r="6.3"/><circle cx="1130" cy="264.2" r="6.3"/><circle cx="1142.2" cy="262.5" r="6.3"/><circle cx="1108.1" cy="267.7" r="6.3"/><circle cx="1123" cy="278.7" r="6.3"/><circle cx="1154.1" cy="276.1" r="6.3"/><circle cx="1138.7" cy="283.5" r="6.3"/><circle cx="1138.7" cy="295.7" r="6.3"/><circle cx="1123" cy="301.8" r="6.3"/></g>
<g fill="#22b04a"><circle cx="1123" cy="92.6" r="5.3"/><circle cx="1139.4" cy="95.4" r="5.3"/><circle cx="1131.1" cy="123.1" r="5.3"/><circle cx="1147.8" cy="128.7" r="5.3"/><circle cx="1114.8" cy="135.2" r="5.3"/><circle cx="1131.3" cy="140.1" r="5.3"/><circle cx="1108.3" cy="152.4" r="5.3"/><circle cx="1154.4" cy="151.4" r="5.3"/><circle cx="1139" cy="157.5" r="5.3"/><circle cx="1123.6" cy="166.1" r="5.3"/><circle cx="1147.4" cy="190.5" r="5.3"/><circle cx="1114.6" cy="194.7" r="5.3"/><circle cx="1131.3" cy="205.9" r="5.3"/><circle cx="1108.2" cy="221.4" r="5.3"/><circle cx="1138.8" cy="221.4" r="5.3"/><circle cx="1154.2" cy="219.4" r="5.3"/><circle cx="1123.3" cy="227.5" r="5.3"/><circle cx="1112.5" cy="234.5" r="5.3"/><circle cx="1120.4" cy="236.2" r="5.3"/><circle cx="1139.6" cy="231.9" r="5.3"/><circle cx="1141.3" cy="238.9" r="5.3"/><circle cx="1151" cy="235.4" r="5.3"/><circle cx="1127.3" cy="242.4" r="5.3"/><circle cx="1135.2" cy="246.7" r="5.3"/><circle cx="1108.1" cy="246.7" r="5.3"/><circle cx="1154.1" cy="254.6" r="5.3"/><circle cx="1119.5" cy="262.5" r="5.3"/><circle cx="1130" cy="264.2" r="5.3"/><circle cx="1142.2" cy="262.5" r="5.3"/><circle cx="1108.1" cy="267.7" r="5.3"/><circle cx="1123" cy="278.7" r="5.3"/><circle cx="1154.1" cy="276.1" r="5.3"/><circle cx="1138.7" cy="283.5" r="5.3"/><circle cx="1138.7" cy="295.7" r="5.3"/><circle cx="1123" cy="301.8" r="5.3"/></g>
<g fill="#1b73b9"><circle cx="1239.4" cy="124.8" r="6.3"/><circle cx="1198.2" cy="132.1" r="6.3"/><circle cx="1223.1" cy="133.2" r="6.3"/><circle cx="1206.6" cy="142.5" r="6.3"/><circle cx="1239.4" cy="146.9" r="6.3"/><circle cx="1223.3" cy="153.4" r="6.3"/><circle cx="1214.3" cy="159.7" r="6.3"/><circle cx="1231.4" cy="173" r="6.3"/><circle cx="1214.6" cy="190.3" r="6.3"/><circle cx="1231.2" cy="189.7" r="6.3"/><circle cx="1245.6" cy="195" r="6.3"/><circle cx="1200.2" cy="202" r="6.3"/><circle cx="1211.2" cy="205.7" r="6.3"/><circle cx="1234.2" cy="202.9" r="6.3"/><circle cx="1223.1" cy="212.7" r="6.3"/><circle cx="1200.2" cy="217.6" r="6.3"/><circle cx="1208.5" cy="221.3" r="6.3"/><circle cx="1215.8" cy="227.4" r="6.3"/><circle cx="1221.3" cy="233.2" r="6.3"/><circle cx="1228.7" cy="229.6" r="6.3"/><circle cx="1236.9" cy="222.2" r="6.3"/><circle cx="1245.2" cy="217.6" r="6.3"/><circle cx="1200.2" cy="240.6" r="6.3"/><circle cx="1212.1" cy="246.1" r="6.3"/><circle cx="1234.2" cy="245.2" r="6.3"/><circle cx="1245.2" cy="240.6" r="6.3"/><circle cx="1223.1" cy="253.4" r="6.3"/><circle cx="1214.9" cy="276.4" r="6.3"/><circle cx="1231.4" cy="275.5" r="6.3"/></g>
<g fill="#2a81c4"><circle cx="1239.4" cy="124.8" r="5.3"/><circle cx="1198.2" cy="132.1" r="5.3"/><circle cx="1223.1" cy="133.2" r="5.3"/><circle cx="1206.6" cy="142.5" r="5.3"/><circle cx="1239.4" cy="146.9" r="5.3"/><circle cx="1223.3" cy="153.4" r="5.3"/><circle cx="1214.3" cy="159.7" r="5.3"/><circle cx="1231.4" cy="173" r="5.3"/><circle cx="1214.6" cy="190.3" r="5.3"/><circle cx="1231.2" cy="189.7" r="5.3"/><circle cx="1245.6" cy="195" r="5.3"/><circle cx="1200.2" cy="202" r="5.3"/><circle cx="1211.2" cy="205.7" r="5.3"/><circle cx="1234.2" cy="202.9" r="5.3"/><circle cx="1223.1" cy="212.7" r="5.3"/><circle cx="1200.2" cy="217.6" r="5.3"/><circle cx="1208.5" cy="221.3" r="5.3"/><circle cx="1215.8" cy="227.4" r="5.3"/><circle cx="1221.3" cy="233.2" r="5.3"/><circle cx="1228.7" cy="229.6" r="5.3"/><circle cx="1236.9" cy="222.2" r="5.3"/><circle cx="1245.2" cy="217.6" r="5.3"/><circle cx="1200.2" cy="240.6" r="5.3"/><circle cx="1212.1" cy="246.1" r="5.3"/><circle cx="1234.2" cy="245.2" r="5.3"/><circle cx="1245.2" cy="240.6" r="5.3"/><circle cx="1223.1" cy="253.4" r="5.3"/><circle cx="1214.9" cy="276.4" r="5.3"/><circle cx="1231.4" cy="275.5" r="5.3"/></g>
<g fill="#5450a9"><circle cx="1315.1" cy="79.7" r="6.3"/><circle cx="1323.4" cy="95.5" r="6.3"/><circle cx="1307" cy="101.3" r="6.3"/><circle cx="1292.6" cy="124.4" r="6.3"/><circle cx="1337.2" cy="122" r="6.3"/><circle cx="1299.9" cy="130.7" r="6.3"/><circle cx="1330.4" cy="130.2" r="6.3"/><circle cx="1306.8" cy="137" r="6.3"/><circle cx="1321.4" cy="136" r="6.3"/><circle cx="1306.8" cy="145.4" r="6.3"/><circle cx="1322.5" cy="145.4" r="6.3"/><circle cx="1299.9" cy="151.7" r="6.3"/><circle cx="1329.8" cy="148.6" r="6.3"/><circle cx="1309.4" cy="162.7" r="6.3"/><circle cx="1320.4" cy="161.2" r="6.3"/><circle cx="1331.9" cy="163.3" r="6.3"/><circle cx="1298.6" cy="175.2" r="6.3"/><circle cx="1314.6" cy="180.2" r="6.3"/><circle cx="1291.9" cy="192.8" r="6.3"/><circle cx="1337.9" cy="189.3" r="6.3"/><circle cx="1322.5" cy="195.6" r="6.3"/><circle cx="1307" cy="203" r="6.3"/><circle cx="1306.9" cy="210.7" r="6.3"/><circle cx="1323.1" cy="225.3" r="6.3"/><circle cx="1338.1" cy="225.8" r="6.3"/><circle cx="1291.8" cy="232.7" r="6.3"/><circle cx="1322.5" cy="236.4" r="6.3"/><circle cx="1306.9" cy="242.8" r="6.3"/><circle cx="1298.6" cy="247.1" r="6.3"/><circle cx="1331.1" cy="244.7" r="6.3"/><circle cx="1314.8" cy="259.4" r="6.3"/><circle cx="1314.8" cy="279" r="6.3"/></g>
<g fill="#6863b4"><circle cx="1315.1" cy="79.7" r="5.3"/><circle cx="1323.4" cy="95.5" r="5.3"/><circle cx="1307" cy="101.3" r="5.3"/><circle cx="1292.6" cy="124.4" r="5.3"/><circle cx="1337.2" cy="122" r="5.3"/><circle cx="1299.9" cy="130.7" r="5.3"/><circle cx="1330.4" cy="130.2" r="5.3"/><circle cx="1306.8" cy="137" r="5.3"/><circle cx="1321.4" cy="136" r="5.3"/><circle cx="1306.8" cy="145.4" r="5.3"/><circle cx="1322.5" cy="145.4" r="5.3"/><circle cx="1299.9" cy="151.7" r="5.3"/><circle cx="1329.8" cy="148.6" r="5.3"/><circle cx="1309.4" cy="162.7" r="5.3"/><circle cx="1320.4" cy="161.2" r="5.3"/><circle cx="1331.9" cy="163.3" r="5.3"/><circle cx="1298.6" cy="175.2" r="5.3"/><circle cx="1314.6" cy="180.2" r="5.3"/><circle cx="1291.9" cy="192.8" r="5.3"/><circle cx="1337.9" cy="189.3" r="5.3"/><circle cx="1322.5" cy="195.6" r="5.3"/><circle cx="1307" cy="203" r="5.3"/><circle cx="1306.9" cy="210.7" r="5.3"/><circle cx="1323.1" cy="225.3" r="5.3"/><circle cx="1338.1" cy="225.8" r="5.3"/><circle cx="1291.8" cy="232.7" r="5.3"/><circle cx="1322.5" cy="236.4" r="5.3"/><circle cx="1306.9" cy="242.8" r="5.3"/><circle cx="1298.6" cy="247.1" r="5.3"/><circle cx="1331.1" cy="244.7" r="5.3"/><circle cx="1314.8" cy="259.4" r="5.3"/><circle cx="1314.8" cy="279" r="5.3"/></g>
<path d="M131.4 333.4H189.4M146.6 304.2H174.20000000000002M146.6 363.4H174.20000000000002" fill="none" stroke="#000" stroke-width="2.8" stroke-linecap="round"/>
<path d="M160.4 304.2V363.4" fill="none" stroke="#000" stroke-width="2.8"/>
<path d="M222.7 311.2H280.7M237.89999999999998 275.7H265.5M237.89999999999998 346.6H265.5" fill="none" stroke="#000" stroke-width="2.8" stroke-linecap="round"/>
<path d="M251.7 275.7V346.6" fill="none" stroke="#000" stroke-width="2.8"/>
<path d="M314.1 309.1H372.1M329.3 277.2H356.90000000000003M329.3 340.3H356.90000000000003" fill="none" stroke="#000" stroke-width="2.8" stroke-linecap="round"/>
<path d="M343.1 277.2V340.3" fill="none" stroke="#000" stroke-width="2.8"/>
<path d="M404.4 266.3H462.4M419.59999999999997 218.6H447.2M419.59999999999997 314.3H447.2" fill="none" stroke="#000" stroke-width="2.8" stroke-linecap="round"/>
<path d="M433.4 218.6V314.3" fill="none" stroke="#000" stroke-width="2.8"/>
<path d="M495.79999999999995 220.2H553.8M510.99999999999994 178.7H538.5999999999999M510.99999999999994 262.0H538.5999999999999" fill="none" stroke="#000" stroke-width="2.8" stroke-linecap="round"/>
<path d="M524.8 178.7V262.0" fill="none" stroke="#000" stroke-width="2.8"/>
<path d="M586.8 346.8H644.8M602.0 320.3H629.5999999999999M602.0 373.4H629.5999999999999" fill="none" stroke="#000" stroke-width="2.8" stroke-linecap="round"/>
<path d="M615.8 320.3V373.4" fill="none" stroke="#000" stroke-width="2.8"/>
<path d="M826.5 161.0H884.5M841.7 108.5H869.3M841.7 213.1H869.3" fill="none" stroke="#000" stroke-width="2.8" stroke-linecap="round"/>
<path d="M855.5 108.5V213.1" fill="none" stroke="#000" stroke-width="2.8"/>
<path d="M918.2 173.8H976.2M933.4000000000001 117.8H961.0M933.4000000000001 229.9H961.0" fill="none" stroke="#000" stroke-width="2.8" stroke-linecap="round"/>
<path d="M947.2 117.8V229.9" fill="none" stroke="#000" stroke-width="2.8"/>
<path d="M1010.3 211.1H1068.3M1025.5 157.2H1053.1M1025.5 265.1H1053.1" fill="none" stroke="#000" stroke-width="2.8" stroke-linecap="round"/>
<path d="M1039.3 157.2V265.1" fill="none" stroke="#000" stroke-width="2.8"/>
<path d="M1102.3 214.6H1160.3M1117.5 156.9H1145.1M1117.5 271.6H1145.1" fill="none" stroke="#000" stroke-width="2.8" stroke-linecap="round"/>
<path d="M1131.3 156.9V271.6" fill="none" stroke="#000" stroke-width="2.8"/>
<path d="M1194.0 203.9H1252.0M1209.2 161.1H1236.8M1209.2 247.0H1236.8" fill="none" stroke="#000" stroke-width="2.8" stroke-linecap="round"/>
<path d="M1223.0 161.1V247.0" fill="none" stroke="#000" stroke-width="2.8"/>
<path d="M1286.0 176.3H1344.0M1301.2 124.8H1328.8M1301.2 228.5H1328.8" fill="none" stroke="#000" stroke-width="2.8" stroke-linecap="round"/>
<path d="M1315.0 124.8V228.5" fill="none" stroke="#000" stroke-width="2.8"/>
<path d="M156 174.20000000000002V166.4H248V174.20000000000002" fill="none" stroke="#000" stroke-width="3" stroke-linejoin="round" stroke-linecap="round"/>
<path d="M247 143.9V136.3H339.5V143.9" fill="none" stroke="#000" stroke-width="3" stroke-linejoin="round" stroke-linecap="round"/>
<path d="M338.5 110.2V102.2H427.5V110.2" fill="none" stroke="#000" stroke-width="3" stroke-linejoin="round" stroke-linecap="round"/>
<path d="M426.5 76.2V68.5H517V76.2" fill="none" stroke="#000" stroke-width="3" stroke-linejoin="round" stroke-linecap="round"/>
<path d="M520 57.5V50.3H613V57.5" fill="none" stroke="#000" stroke-width="3" stroke-linejoin="round" stroke-linecap="round"/>
<path d="M153.5 405.6V413.3H615.5V405.6" fill="none" stroke="#000" stroke-width="3" stroke-linejoin="round" stroke-linecap="round"/>
<path d="M855.5 55.699999999999996V48.4H1130.4V55.699999999999996" fill="none" stroke="#000" stroke-width="3" stroke-linejoin="round" stroke-linecap="round"/>
<path d="M1129.8 69.7V62.3H1314.3V69.7" fill="none" stroke="#000" stroke-width="3" stroke-linejoin="round" stroke-linecap="round"/>
<path d="M848.4 405.0V412.8H1315.5V405.0" fill="none" stroke="#000" stroke-width="3" stroke-linejoin="round" stroke-linecap="round"/>
<text transform="translate(0.3 31) scale(0.9 1)" font-size="42" font-weight="bold">a</text>
<text x="706.3" y="31.3" font-size="41" font-weight="bold">b</text>
<text x="202.5" y="162.2" text-anchor="middle" font-size="25.3">ns</text>
<text x="293" y="130.9" text-anchor="middle" font-size="25.3">ns</text>
<text x="385.3" y="444.8" text-anchor="middle" font-size="25.3">ns</text>
<text x="1082.6" y="438.5" text-anchor="middle" font-size="25.3">ns</text>
<path d="M372.50 92.85L372.50 89.20M372.50 92.85L375.97 91.72M372.50 92.85L374.65 95.80M372.50 92.85L370.35 95.80M372.50 92.85L369.03 91.72" stroke="#000" stroke-width="2.15" stroke-linecap="round" fill="none"/>
<path d="M382.80 92.85L382.80 89.20M382.80 92.85L386.27 91.72M382.80 92.85L384.95 95.80M382.80 92.85L380.65 95.80M382.80 92.85L379.33 91.72" stroke="#000" stroke-width="2.15" stroke-linecap="round" fill="none"/>
<path d="M393.10 92.85L393.10 89.20M393.10 92.85L396.57 91.72M393.10 92.85L395.25 95.80M393.10 92.85L390.95 95.80M393.10 92.85L389.63 91.72" stroke="#000" stroke-width="2.15" stroke-linecap="round" fill="none"/>
<path d="M461.55 58.85L461.55 55.20M461.55 58.85L465.02 57.72M461.55 58.85L463.70 61.80M461.55 58.85L459.40 61.80M461.55 58.85L458.08 57.72" stroke="#000" stroke-width="2.15" stroke-linecap="round" fill="none"/>
<path d="M471.70 58.85L471.70 55.20M471.70 58.85L475.17 57.72M471.70 58.85L473.85 61.80M471.70 58.85L469.55 61.80M471.70 58.85L468.23 57.72" stroke="#000" stroke-width="2.15" stroke-linecap="round" fill="none"/>
<path d="M481.90 58.85L481.90 55.20M481.90 58.85L485.37 57.72M481.90 58.85L484.05 61.80M481.90 58.85L479.75 61.80M481.90 58.85L478.43 57.72" stroke="#000" stroke-width="2.15" stroke-linecap="round" fill="none"/>
<path d="M551.10 42.45L551.10 38.80M551.10 42.45L554.57 41.32M551.10 42.45L553.25 45.40M551.10 42.45L548.95 45.40M551.10 42.45L547.63 41.32" stroke="#000" stroke-width="2.15" stroke-linecap="round" fill="none"/>
<path d="M561.20 42.45L561.20 38.80M561.20 42.45L564.67 41.32M561.20 42.45L563.35 45.40M561.20 42.45L559.05 45.40M561.20 42.45L557.73 41.32" stroke="#000" stroke-width="2.15" stroke-linecap="round" fill="none"/>
<path d="M571.30 42.45L571.30 38.80M571.30 42.45L574.77 41.32M571.30 42.45L573.45 45.40M571.30 42.45L569.15 45.40M571.30 42.45L567.83 41.32" stroke="#000" stroke-width="2.15" stroke-linecap="round" fill="none"/>
<path d="M581.60 42.45L581.60 38.80M581.60 42.45L585.07 41.32M581.60 42.45L583.75 45.40M581.60 42.45L579.45 45.40M581.60 42.45L578.13 41.32" stroke="#000" stroke-width="2.15" stroke-linecap="round" fill="none"/>
<path d="M982.90 38.55L982.90 34.90M982.90 38.55L986.37 37.42M982.90 38.55L985.05 41.50M982.90 38.55L980.75 41.50M982.90 38.55L979.43 37.42" stroke="#000" stroke-width="2.15" stroke-linecap="round" fill="none"/>
<path d="M993.10 38.55L993.10 34.90M993.10 38.55L996.57 37.42M993.10 38.55L995.25 41.50M993.10 38.55L990.95 41.50M993.10 38.55L989.63 37.42" stroke="#000" stroke-width="2.15" stroke-linecap="round" fill="none"/>
<path d="M1003.40 38.55L1003.40 34.90M1003.40 38.55L1006.87 37.42M1003.40 38.55L1005.55 41.50M1003.40 38.55L1001.25 41.50M1003.40 38.55L999.93 37.42" stroke="#000" stroke-width="2.15" stroke-linecap="round" fill="none"/>
<path d="M1216.50 49.55L1216.50 45.90M1216.50 49.55L1219.97 48.42M1216.50 49.55L1218.65 52.50M1216.50 49.55L1214.35 52.50M1216.50 49.55L1213.03 48.42" stroke="#000" stroke-width="2.15" stroke-linecap="round" fill="none"/>
<path d="M1227.10 49.55L1227.10 45.90M1227.10 49.55L1230.57 48.42M1227.10 49.55L1229.25 52.50M1227.10 49.55L1224.95 52.50M1227.10 49.55L1223.63 48.42" stroke="#000" stroke-width="2.15" stroke-linecap="round" fill="none"/>
<text x="384.1" y="571" text-anchor="middle" font-size="29">Phases</text>
<text x="1082" y="571" text-anchor="middle" font-size="29">Phases</text>
<text transform="translate(27.6 411.4) rotate(-90)" font-size="29.2">Nucleoid volume (μm<tspan dy="-13.5" font-size="20.5">3</tspan><tspan dy="13.5">)</tspan></text>
<text transform="translate(728.8 405.8) rotate(-90)" font-size="29">Fraction of cell volume</text>
</svg>
</body></html>
